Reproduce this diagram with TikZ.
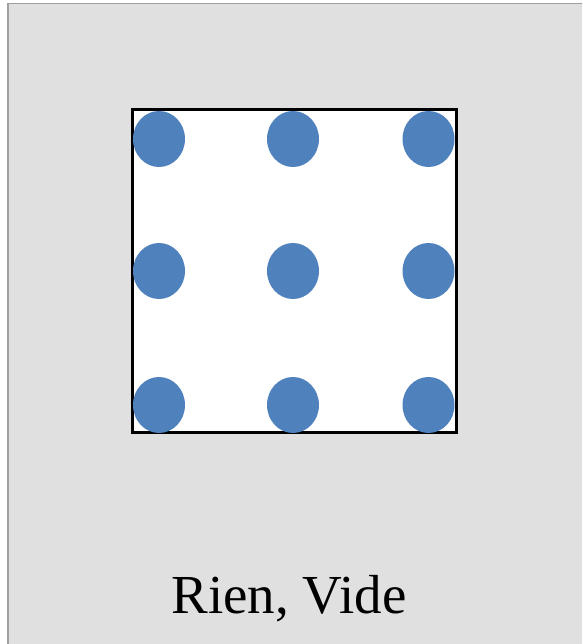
\documentclass[tikz,border=0pt]{standalone}
\usepackage{fontspec}
\setmainfont{Liberation Serif}
\definecolor{bgray}{HTML}{E0E0E0}
\definecolor{edgegray}{HTML}{A0A0A0}
\definecolor{dotblue}{HTML}{4F81BD}
\usetikzlibrary{shapes.geometric}
\tikzset{
  dotmark/.style={fill=dotblue, draw=none, ellipse, minimum width=52pt, minimum height=56pt, inner sep=0pt},
  label/.style={font=\fontsize{55}{60}\selectfont, anchor=base, inner sep=0pt}
}
\begin{document}
\begin{tikzpicture}[x=1pt,y=-1pt]
\useasboundingbox (0,0) rectangle (582,644);
\fill[white] (0,0) rectangle (582,644);
\begin{scope}
\clip (0,0) rectangle (582,644);
\draw[edgegray, fill=bgray, line width=1.5pt] (8,3.5) rectangle (600,660);
\end{scope}
\draw[fill=white, line width=3pt] (132,110) rectangle (456.5,432.5);
\foreach \i/\x in {1/159,2/293,3/428.5}{
  \foreach \j/\y in {1/139,2/271,3/405}{
    \node[dotmark] (d\i\j) at (\x,\y) {};
  }
}
\node[label] (title) at (289,613) {Rien, Vide};
\end{tikzpicture}
\end{document}
